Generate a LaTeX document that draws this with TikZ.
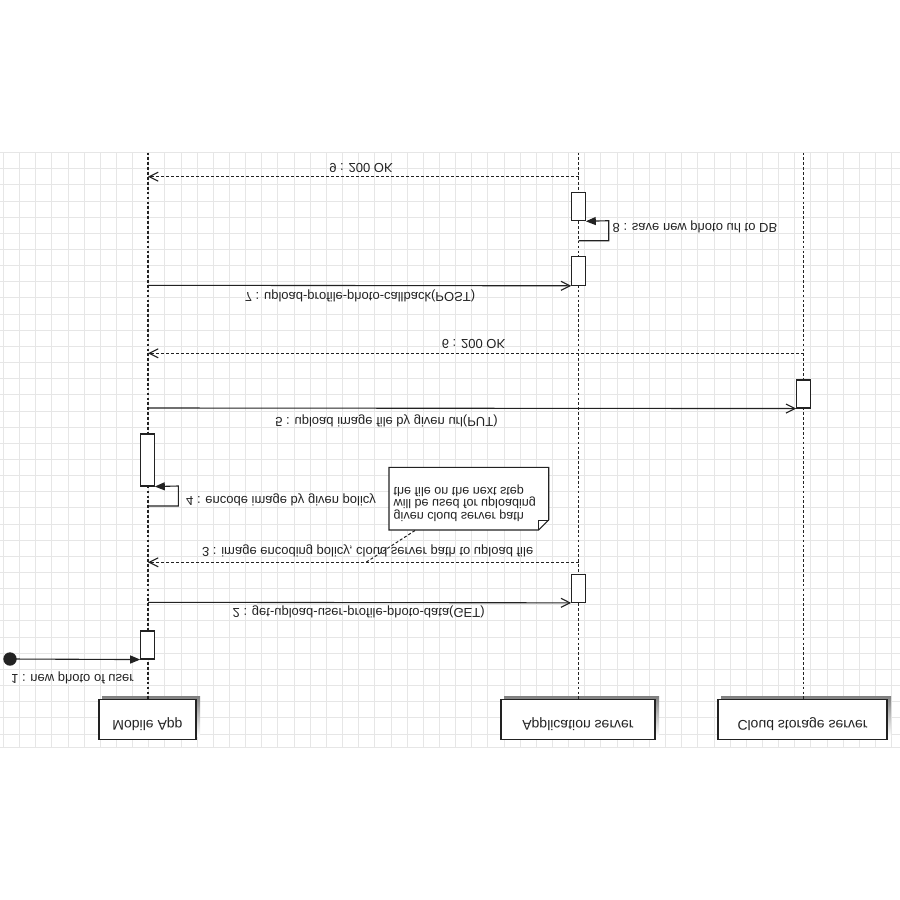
\documentclass[tikz,border=0pt]{standalone}
\usepackage{fontspec}
\setmainfont{Liberation Sans}
\usetikzlibrary{arrows.meta,calc}
\definecolor{gridgray}{RGB}{230,230,230}
\definecolor{ink}{RGB}{34,34,34}
\definecolor{shade}{RGB}{236,236,236}
% text mirrored top-to-bottom
\newcommand{\vflip}[1]{\scalebox{1}[-1]{#1}}

\begin{document}
\begin{tikzpicture}[x=1pt,y=-1pt,
  gridline/.style={draw=gridgray, line width=0.8pt},
  lifeline/.style={draw=ink, line width=1.2pt, dash pattern=on 2.7pt off 2.2pt},
  headbox/.style={draw=ink, line width=1.1pt, fill=white, inner sep=0pt,
    minimum height=40pt},
  headtext/.style={inner sep=0pt, text=ink, font=\fontsize{14}{16}\selectfont},
  actbox/.style={draw=ink, line width=1.1pt, fill=white, inner sep=0pt,
    minimum width=13.5pt},
  msg/.style={draw=ink, line width=1.1pt, -{Straight Barb[length=9pt,width=9pt]}},
  retmsg/.style={draw=ink, line width=1.1pt, dash pattern=on 3pt off 2pt,
    -{Straight Barb[length=9pt,width=9pt]}},
  selfmsg/.style={draw=ink, line width=1.1pt, -{Triangle[length=10pt,width=8pt]}},
  startdot/.style={circle, fill=ink, inner sep=0pt, minimum size=13.4pt},
  lbl/.style={inner sep=0pt, text=ink, font=\fontsize{13}{15.6}\selectfont},
  notelink/.style={draw=ink, line width=1pt, dash pattern=on 3pt off 2pt},
]
\useasboundingbox (0,0) rectangle (900,900);
\fill[white] (0,0) rectangle (900,900);

% background grid
\foreach \i in {0,...,55}
  \draw[gridline] ({3.3+16.15*\i},152.5) -- ({3.3+16.15*\i},747.5);
\foreach \j in {0,...,36}
  \draw[gridline] (0,{152.5+16.15*\j}) -- (900,{152.5+16.15*\j});
\draw[gridline] (0,747.5) -- (900,747.5);

% participant boxes with soft shadows
\fill[shade] (102,696) rectangle (200,736);
\fill[shade] (504,696) rectangle (659,736);
\fill[shade] (721,696) rectangle (891,736);
\node[headbox, minimum width=97pt] (mob) at (147.5,719.5) {};
\node[headbox, minimum width=154pt] (app) at (578,719.5) {};
\node[headbox, minimum width=169pt] (cld) at (802.5,719.5) {};
\node[headtext] (mobName) at (147.5,724.5) {\vflip{Mobile App}};
\node[headtext] (appName) at (578,724.5) {\vflip{Application server}};
\node[headtext] (cldName) at (802.5,724.5) {\vflip{Cloud storage server}};

% lifelines
\coordinate (mobTop) at (148,152.5);
\coordinate (appTop) at (578.5,152.5);
\coordinate (cldTop) at (803.5,152.5);
\draw[lifeline] (mobTop) -- (mob.north -| mobTop);
\draw[lifeline] (appTop) -- (app.north -| appTop);
\draw[lifeline] (cldTop) -- (cld.north -| cldTop);

% activation bars
\node[actbox, minimum height=28pt] (a1) at (147.5,645) {};
\node[actbox, minimum height=28pt] (a2) at (578.5,588.3) {};
\node[actbox, minimum height=52pt] (a4) at (147.5,460) {};
\node[actbox, minimum height=28pt] (a5) at (803.5,394) {};
\node[actbox, minimum height=28.5pt] (a7) at (578.5,271) {};
\node[actbox, minimum height=28.5pt] (a8) at (578.5,206.5) {};

% 1 : found message
\node[startdot] (start) at (10,659) {};
\draw[selfmsg] (start.center) -- (a1.south west);
\node[lbl] (l1) at (72.5,677.7) {\vflip{1 : new photo of user}};

% 2
\coordinate (m2) at (148,602.3);
\draw[msg] (m2) -- (a2.south west);
\node[lbl] (l2) at (358.7,612) {\vflip{2 : get-upload-user-profile-photo-data(GET)}};

% 3
\coordinate (s3) at (578.5,562.3);
\coordinate (m3) at (148,562.3);
\draw[retmsg] (s3) -- (m3);
\node[lbl] (l3) at (367.7,550.5) {\vflip{3 : image encoding policy, cloud server path to upload file}};

% note attached to message 3
\coordinate (nw) at (389,467.3);
\coordinate (se) at (548.7,530);
\filldraw[draw=ink, fill=white, line width=1.1pt]
  (nw) -- (nw -| se) -- ($(se)+(0,-10)$) -- ($(se)+(-10,0)$) -- (se -| nw) -- cycle;
\draw[draw=ink, line width=1pt] ($(se)+(-10,0)$) -- ($(se)+(-10,-10)$) -- ($(se)+(0,-10)$);
\node[inner sep=0pt, text=ink, font=\fontsize{12.6}{11.9}\selectfont, anchor=west] (notetxt) at (393.5,502.7)
  {\vflip{\begin{tabular}{@{}l@{}}given cloud server path\\will be used for uploading\\the file on the next step\end{tabular}}};
\coordinate (noteFoot) at (415,530.5);
\coordinate (noteHit) at (366,562.3);
\draw[notelink] (noteFoot) -- (noteHit);

% 4 : self call on the app
\coordinate (m4) at (148,506);
\draw[selfmsg] (m4) -- ++(30.3,0) -- ++(0,-20) -- (a4.south east);
\node[lbl, anchor=west] (l4) at (186,500) {\vflip{4 : encode image by given policy}};

% 5
\coordinate (m5) at (148,408);
\draw[msg] (m5) -- (a5.south west);
\node[lbl] (l5) at (386.5,420.5) {\vflip{5 : upload image file by given url(PUT)}};

% 6
\coordinate (c6) at (803.5,353.3);
\coordinate (m6) at (148,353.3);
\draw[retmsg] (c6) -- (m6);
\node[lbl] (l6) at (473.5,343.5) {\vflip{6 : 200 OK}};

% 7
\coordinate (m7) at (148,285.3);
\draw[msg] (m7) -- (a7.south west);
\node[lbl] (l7) at (360,296) {\vflip{7 : upload-profile-photo-callback(POST)}};

% 8 : self call on the server
\coordinate (s8) at (578.5,240.7);
\draw[selfmsg] (s8) -- ++(30.2,0) -- ++(0,-20) -- (a8.south east);
\node[lbl, anchor=west] (l8) at (612.5,227.3) {\vflip{8 : save new photo url to DB}};

% 9
\coordinate (s9) at (578.5,176.7);
\coordinate (m9) at (148,176.7);
\draw[retmsg] (s9) -- (m9);
\node[lbl] (l9) at (361,168) {\vflip{9 : 200 OK}};
\end{tikzpicture}
\end{document}
